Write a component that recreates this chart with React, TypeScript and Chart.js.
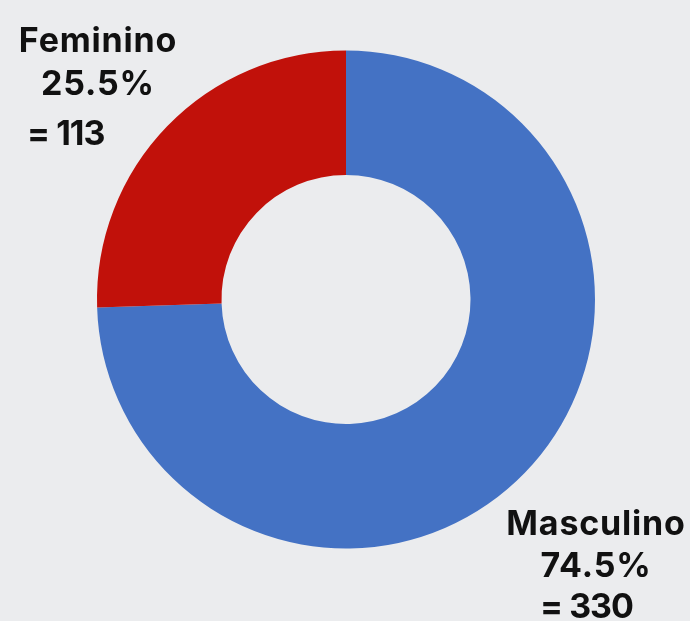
import React, { useEffect, useRef } from "react";
import { Chart, registerables } from "chart.js";

Chart.register(...registerables);

const categories = ["Masculino", "Feminino"];
const counts = [330, 113];
const percentLabels = ["74.5%", "25.5%"];
const countLabels = ["= 330", "= 113"];
const colors = ["#4472C4", "#C1110A"];
const BG = "#EBECEE";

const labelPlugin = {
  id: "sliceLabels",
  afterDraw(chart: any) {
    const ctx = chart.ctx;
    const font = "bold 34px Inter, 'Noto Sans', sans-serif";
    ctx.save();
    ctx.fillStyle = "#111111";
    ctx.font = font;
    const setSpacing = (s: string) => {
      try { (ctx as any).letterSpacing = s; } catch (e) {}
    };
    setSpacing("0.8px");
    // Feminino (index 1) top-left
    ctx.textAlign = "center";
    ctx.fillText(categories[1], 98, 52);
    ctx.fillText(percentLabels[1], 98, 95);
    // Masculino (index 0) bottom-right
    ctx.fillText(categories[0], 596, 535);
    ctx.fillText(percentLabels[0], 596, 577);
    // count lines
    setSpacing("-1px");
    ctx.textAlign = "left";
    ctx.fillText(countLabels[1], 27, 145);
    ctx.fillText(countLabels[0], 540, 618);
    ctx.restore();
  },
};

export default function App() {
  const ref = useRef<HTMLCanvasElement | null>(null);
  useEffect(() => {
    if (!ref.current) return;
    const chart = new Chart(ref.current, {
      type: "doughnut",
      data: {
        labels: categories,
        datasets: [
          {
            data: counts,
            backgroundColor: colors,
            borderWidth: 0,
          },
        ],
      },
      options: {
        responsive: false,
        animation: false,
        cutout: "50%",
        layout: { padding: { left: 97, right: 95, top: 50, bottom: 72 } },
        plugins: {
          legend: { display: false },
          tooltip: { enabled: false },
        },
      },
      plugins: [labelPlugin],
    });
    return () => chart.destroy();
  }, []);
  return (
    <div style={{ position: "fixed", left: 0, top: 0, width: 690, height: 621, background: BG }}>
      <canvas ref={ref} width={690} height={621} style={{ display: "block" }} />
    </div>
  );
}
